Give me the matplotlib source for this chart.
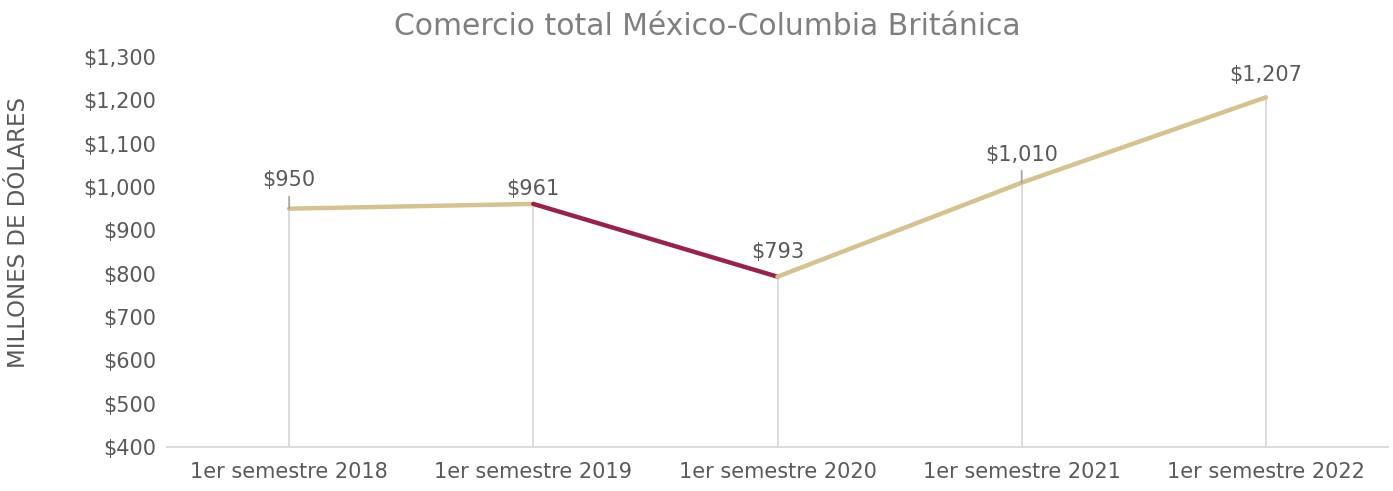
import numpy as np
import matplotlib.pyplot as plt
from matplotlib.ticker import FuncFormatter

periods = ['1er semestre 2018', '1er semestre 2019', '1er semestre 2020',
           '1er semestre 2021', '1er semestre 2022']
values = [950, 961, 793, 1010, 1207]
labels = ['$950', '$961', '$793', '$1,010', '$1,207']

tan = '#D5C28F'
maroon = '#9B2247'
txt = '#595959'

plt.rcParams['font.family'] = ['DejaVu Sans']

fig = plt.figure(figsize=(13.93, 4.91), dpi=100)
ax = fig.add_axes([0.1199, 0.0896, 0.8765, 0.7943])

x = np.arange(len(values))

# lineas de caida hasta el eje
ax.vlines(x, 400, values, color='#D9D9D9', lw=1.3, zorder=1)

seg_colors = [tan, maroon, tan, tan]
for i in range(len(values) - 1):
    ax.plot(x[i:i + 2], values[i:i + 2], color=seg_colors[i], lw=3.2,
            solid_capstyle='round', zorder=3)

# etiquetas (desplazamiento en pixeles)
offs = [29, 15, 25, 28, 22]
for xi, v, lab, o in zip(x, values, labels, offs):
    ax.annotate(lab, (xi, v), xytext=(0, o * 0.72), textcoords='offset points',
                ha='center', va='center', fontsize=15, color=txt)

# lineas guia de etiquetas
for i in [0, 3]:
    ax.annotate('', (x[i], values[i]), xytext=(0, 12 * 0.72), textcoords='offset points',
                arrowprops=dict(arrowstyle='-', color='#A0A0A0', lw=1.2, shrinkA=0, shrinkB=0))

ax.set_xlim(-0.5, 4.5)
ax.set_ylim(400, 1300)
ax.set_yticks(np.arange(400, 1301, 100))
ax.yaxis.set_major_formatter(FuncFormatter(lambda v, p: '${:,.0f}'.format(v)))
ax.set_xticks(x)
ax.set_xticklabels(periods)
ax.tick_params(axis='both', length=0, labelsize=15, labelcolor=txt)
ax.tick_params(axis='x', pad=11)
ax.tick_params(axis='y', pad=8)

for s in ['top', 'right', 'left']:
    ax.spines[s].set_visible(False)
ax.spines['bottom'].set_color('#D9D9D9')
ax.spines['bottom'].set_linewidth(1.3)

ax.set_ylabel('MILLONES DE DÓLARES', fontsize=16.5, color=txt, labelpad=6)
ax.yaxis.set_label_coords(-0.112, 0.55)
fig.suptitle('Comercio total México-Columbia Británica', fontsize=21.5, color='#7F7F7F',
             y=0.975, x=0.508, va='top')

fig.savefig('out.png', dpi=100, facecolor='white')
